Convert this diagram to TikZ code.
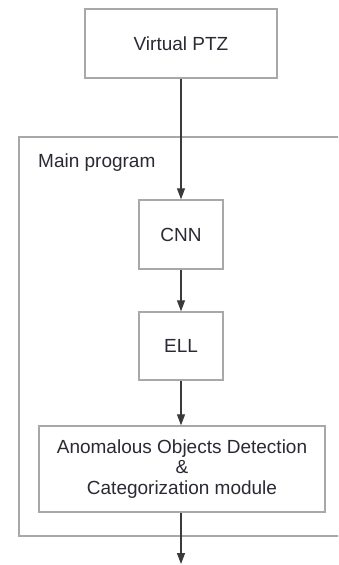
\documentclass[tikz,border=0pt]{standalone}
\usepackage{fontspec}
\setmainfont{Liberation Sans}
\usetikzlibrary{arrows.meta}
\definecolor{boxgray}{HTML}{A8A8A8}
\definecolor{linegray}{HTML}{3A3A3A}
\definecolor{txt}{HTML}{2A2A34}
\begin{document}
\begin{tikzpicture}[x=1pt,y=-1pt,
  blk/.style={draw=boxgray, line width=1.4pt, rectangle, inner sep=0pt,
    text=txt, font=\fontsize{19}{20.5}\selectfont, align=center},
  flow/.style={draw=linegray, line width=1.3pt, -{Triangle[length=11pt,width=8pt]}}]
\useasboundingbox (0,0) rectangle (338,565);
\clip (0,0) rectangle (338,565);
\fill[white] (0,0) rectangle (338,565);
% main program frame
\draw[draw=boxgray, line width=1.4pt] (19,137) rectangle (360,536);
\node[anchor=base west, inner sep=0pt, text=txt, font=\fontsize{19}{20.5}\selectfont] (mainlbl) at (38,167) {Main program};
% blocks
\node[blk, minimum width=192pt, minimum height=69pt] (ptz) at (181,43.5) {Virtual PTZ};
\node[blk, minimum width=84pt, minimum height=69pt] (cnn) at (181,234.5) {CNN};
\node[blk, minimum width=84pt, minimum height=68pt] (ell) at (181,346) {ELL};
\node[blk, minimum width=286pt, minimum height=86pt] (ano) at (182,469) {Anomalous Objects Detection\\\&\\Categorization module};
\coordinate (out) at (181,564);
% connectors
\draw[flow] (ptz.south -| cnn.north) -- (cnn.north);
\draw[flow] (cnn.south) -- (ell.north);
\draw[flow] (ell.south) -- (ell.south |- ano.north);
\draw[flow] (ano.south -| ell.south) -- (out);
\end{tikzpicture}
\end{document}
